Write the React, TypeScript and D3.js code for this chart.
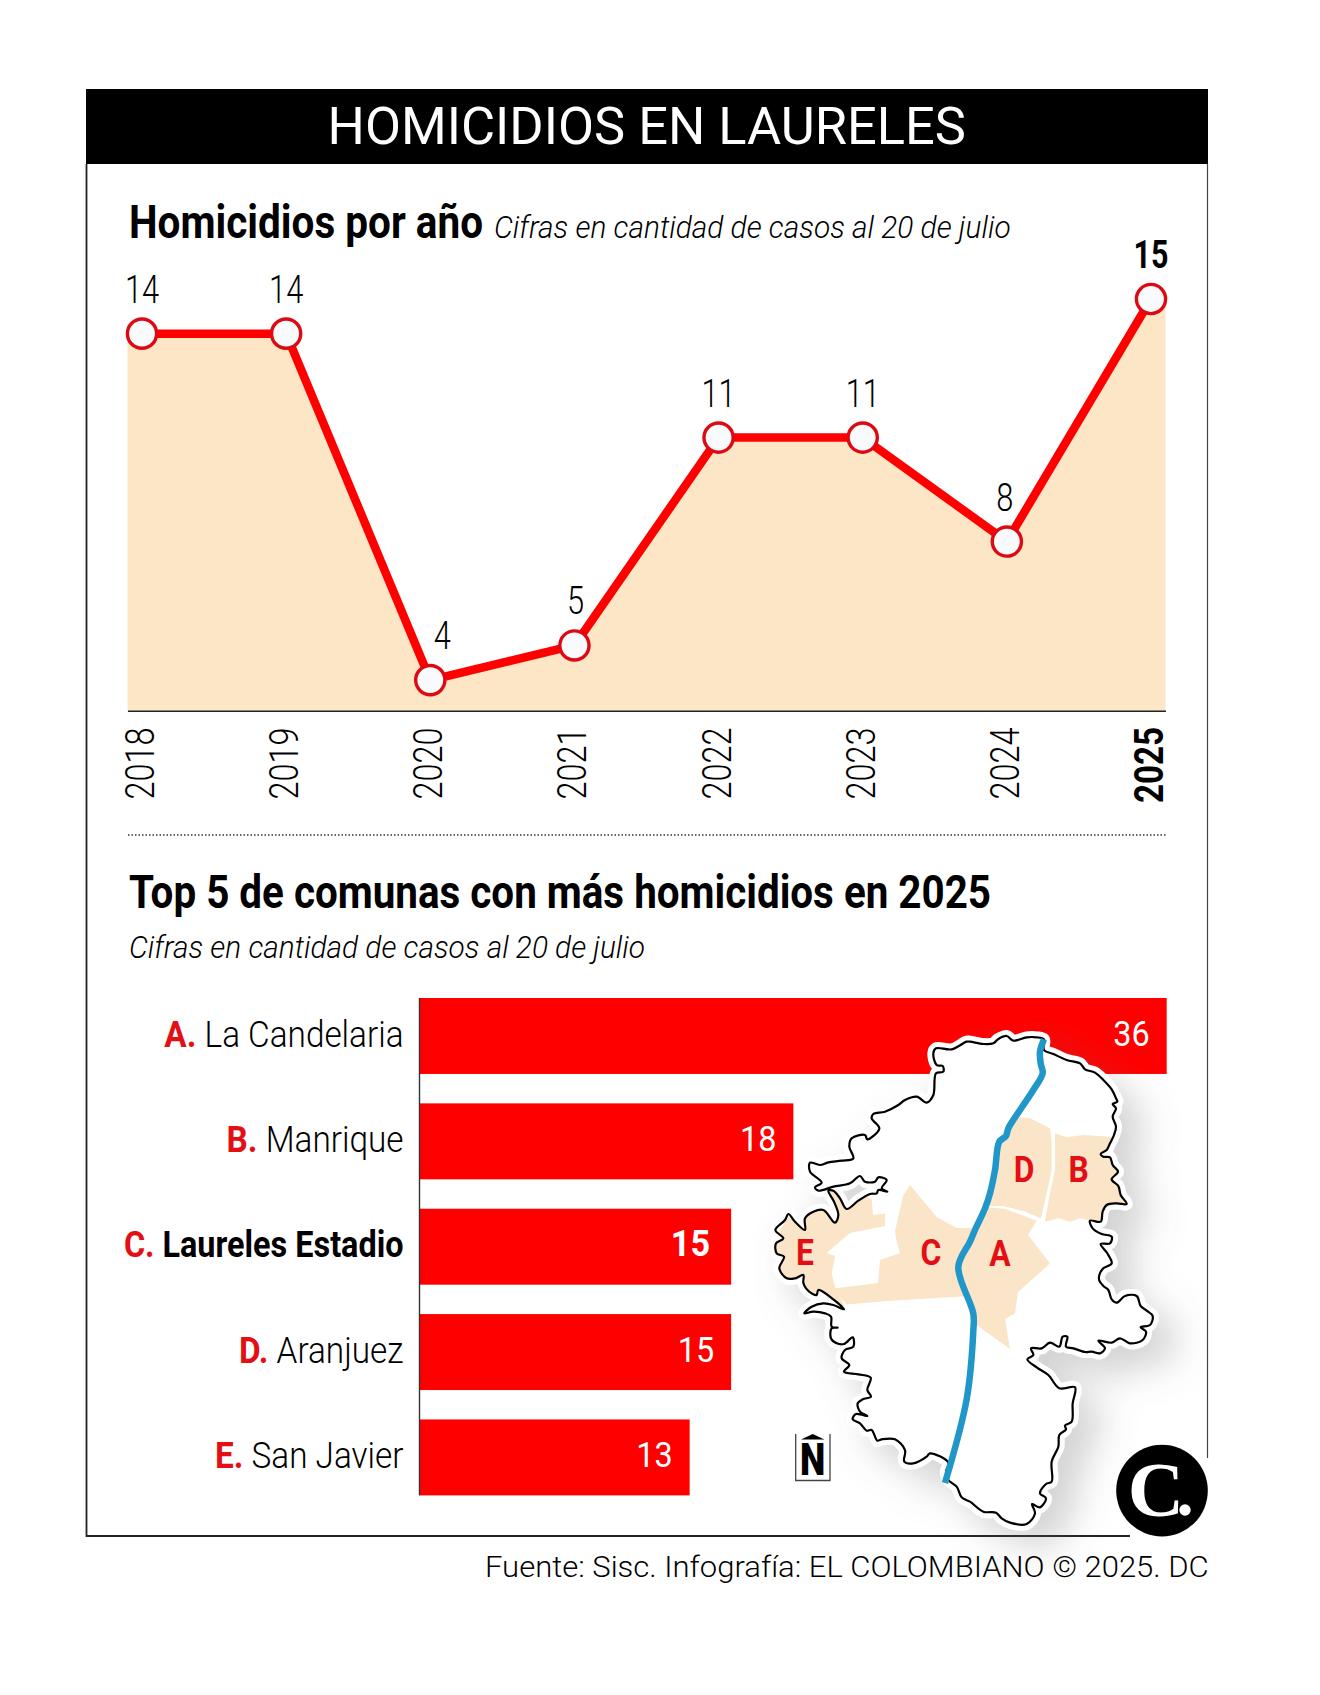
import * as d3 from "d3";

const years = ["2018", "2019", "2020", "2021", "2022", "2023", "2024", "2025"];
const yearCases = [14, 14, 4, 5, 11, 11, 8, 15];
const labelNudge = [0, 0, 12, 1, 0, 0, -2, 0];

const comunas = ["La Candelaria", "Manrique", "Laureles Estadio", "Aranjuez", "San Javier"];
const letters = ["A", "B", "C", "D", "E"];
const comunaCases = [36, 18, 15, 15, 13];

const RED = "#ff0000";
const LETTER_RED = "#e30f14";
const CREAM = "#fde6c6";
const FONT = "Roboto, sans-serif";

const x = d3.scalePoint(years, [142, 1151]);
const y = d3.scaleLinear([3.1, 15], [711.3, 299]);
const barX = d3.scaleLinear([0, 36], [420, 1166.7]);
const barY = d3.scaleBand(comunas, [998, 1495.4]).paddingInner(0.279);

const areaPad = 14.5;
const areaXs = [x(years[0])! - areaPad, ...years.map((d) => x(d)!), x(years[7])! + areaPad];
const areaYs = [yearCases[0], ...yearCases, yearCases[7]];
const areaPath = d3.area<number>()
  .x((_, i) => areaXs[i])
  .y0(y(3.1))
  .y1((d) => y(d))(areaYs);
const linePath = d3.line<number>()
  .x((_, i) => x(years[i])!)
  .y((d) => y(d))(yearCases);

// map, each piece relative to a 3x crop
type P = [number, number];
const at = (ox: number, oy: number, pts: P[]): P[] => pts.map(([a, b]) => [ox + a / 3, oy + b / 3]);

const coastEastTop: P[] = [[222, 28], [222, 60], [250, 72], [290, 90], [330, 100], [345, 118], [375, 128], [400, 150], [425, 178], [438, 205], [442, 215], [428, 222], [438, 235], [428, 260], [438, 290], [432, 315], [420, 340], [410, 360], [392, 372], [400, 380], [420, 382], [428, 405], [444, 425], [425, 448], [445, 468], [452, 495], [470, 522], [440, 520], [410, 525], [398, 545], [392, 575], [360, 572], [368, 595], [395, 612], [425, 620], [420, 640], [392, 642], [412, 670], [425, 700], [400, 715], [388, 735]];
const coastEastLow: P[] = [[388, 2], [400, 18], [415, 30], [425, 58], [440, 68], [465, 48], [500, 48], [512, 78], [530, 92], [548, 108], [540, 135], [512, 142], [528, 155], [518, 180], [480, 190], [450, 175], [425, 188], [385, 182], [405, 205], [390, 220], [365, 215], [345, 216], [310, 205], [288, 200], [292, 170], [278, 170], [268, 200], [240, 188], [215, 205], [183, 205], [190, 225], [172, 238], [200, 262], [235, 285], [268, 325], [315, 322], [308, 370], [305, 425], [285, 437], [288, 448], [268, 465], [265, 500], [245, 545], [245, 605], [228, 612], [210, 640], [228, 655], [210, 682], [186, 672], [195, 700], [170, 732], [120, 728], [95, 715], [78, 698], [40, 695], [0, 665]];
const coastWestLow: P[] = [[575, 652], [560, 620], [535, 600], [528, 575], [535, 548], [480, 520], [470, 530], [430, 550], [403, 545], [405, 510], [375, 478], [335, 478], [322, 482], [305, 450], [290, 452], [270, 430], [248, 418], [258, 402], [292, 408], [270, 395], [263, 370], [278, 358], [303, 350], [292, 330], [302, 293], [265, 283], [222, 275], [238, 255], [215, 235], [225, 210], [250, 200], [248, 172], [222, 192], [200, 190], [183, 175], [185, 145], [203, 143], [185, 140], [183, 110], [165, 100], [130, 95], [103, 100], [125, 80], [160, 70], [190, 75], [222, 88], [190, 58], [145, 30], [140, 45], [128, 42], [108, 25], [100, 8]];
const coastWestTop: P[] = [[100, 735], [75, 745], [50, 745], [28, 715], [42, 680], [20, 670], [18, 640], [40, 625], [16, 600], [45, 570], [55, 552], [75, 575], [105, 600], [105, 565], [130, 545], [160, 540], [195, 578], [205, 555], [192, 515], [175, 482], [190, 482], [210, 505], [230, 537], [265, 512], [300, 492], [320, 490], [325, 480], [352, 485], [335, 475], [350, 450], [325, 442], [315, 455], [285, 455], [270, 438], [240, 460], [190, 470], [145, 482], [135, 472], [155, 458], [120, 425], [120, 398], [150, 405], [175, 397], [215, 392], [250, 385], [238, 350], [245, 325], [285, 315], [292, 328], [328, 295], [305, 265], [310, 252], [345, 245], [385, 225], [405, 210], [440, 200], [470, 218], [490, 195], [498, 130], [520, 125], [518, 108], [500, 105], [490, 70], [498, 55], [545, 58], [590, 35]];
const coastNorth: P[] = [[0, 35], [40, 42], [70, 40], [85, 27], [110, 18], [130, 32], [170, 22], [200, 22]];

const outline: P[] = [
  ...at(970, 1030, coastEastTop),
  ...at(970, 1280, coastEastLow),
  ...at(770, 1280, coastWestLow),
  ...at(770, 1030, coastWestTop),
  ...at(970, 1030, coastNorth),
];

const river: P[] = [
  ...at(970, 1030, [[222, 28], [210, 65], [212, 100], [218, 130], [190, 180], [150, 240], [115, 295], [108, 318], [88, 335], [75, 420], [60, 490], [45, 535], [15, 600], [0, 635]]),
  [958.3, 1267], [973.3, 1313.6], [973.3, 1331], [966.7, 1399], [945, 1483],
];

const regionD: P[] = at(970, 1030, [[150, 262], [180, 265], [210, 280], [240, 295], [245, 330], [245, 420], [230, 490], [213, 565], [160, 543], [100, 528], [50, 528], [75, 440], [85, 335], [110, 300]]);
const regionB: P[] = at(970, 1030, [[255, 310], [290, 322], [340, 315], [420, 320], [560, 340], [560, 600], [392, 575], [360, 572], [330, 565], [300, 575], [265, 565], [225, 575], [240, 490], [255, 420]]);
const regionA: P[] = [[986.7, 1207], [1005, 1209], [1036.7, 1220.7], [1028, 1235], [1050, 1263.6], [1018, 1292], [1015, 1313.6], [1005, 1319], [1010, 1349], [975, 1324], [970, 1306], [956.7, 1267]];
const regionC: P[] = [[910, 1185], [936.7, 1217], [956.7, 1228], [973, 1228], [956.7, 1267], [970, 1296], [886.7, 1301], [846.7, 1304.6], [833, 1288.6], [863, 1285], [878, 1283], [880, 1260], [900, 1253], [896.7, 1242], [895, 1231], [903, 1196]];
const regionE: P[] = [[871.7, 1199], [873, 1215], [885, 1213.6], [885, 1226], [850, 1233], [826.7, 1253], [835, 1256], [831.7, 1274], [835, 1287], [845, 1306], [800, 1300], [760, 1260], [800, 1200], [830, 1190], [850, 1190]];

const mapLabels: [string, number, number][] = [
  ["D", 1024, 1181.7],
  ["B", 1078.7, 1181.7],
  ["A", 1000, 1266],
  ["C", 931, 1265],
  ["E", 805, 1265],
];

const coastPath = d3.line().curve(d3.curveCatmullRomClosed.alpha(0.5))(outline) as string;
const riverPath = d3.line().curve(d3.curveCatmullRom.alpha(0.5))(river) as string;
const regionPath = d3.line().curve(d3.curveLinearClosed);

const App = () => {
  return (
    <svg
      width={1320}
      height={1695}
      viewBox="0 0 1320 1695"
      style={{ position: "absolute", left: 0, top: 0, background: "#fff" }}
      fontFamily={FONT}
    >
      <defs>
        <clipPath id="coast">
          <path d={coastPath} />
        </clipPath>
        <filter id="soft" x="-30%" y="-30%" width="170%" height="170%">
          <feDropShadow dx="20" dy="18" stdDeviation="18" floodColor="#707070" floodOpacity="0.3" />
        </filter>
      </defs>

      {/* frame */}
      <rect x={86} y={89} width={1122} height={75} fill="#000" />
      <path d="M86.5,164V1536H1130" fill="none" stroke="#222" strokeWidth={1.8} />
      <path d="M1207.5,164V1458" fill="none" stroke="#444" strokeWidth={1.2} />
      <text x={327.5} y={144} fontSize={51} fill="#fff" textLength={638.5} lengthAdjust="spacingAndGlyphs">
        HOMICIDIOS EN LAURELES
      </text>

      {/* line chart */}
      <text x={129} y={237.7} fontSize={46} fontWeight={700} textLength={354} lengthAdjust="spacingAndGlyphs">
        Homicidios por año
      </text>
      <text x={494} y={237.7} fontSize={32} fontWeight={300} fontStyle="italic" textLength={516.6} lengthAdjust="spacingAndGlyphs">
        Cifras en cantidad de casos al 20 de julio
      </text>

      <path d={areaPath as string} fill={CREAM} />
      <line x1={128} x2={1166} y1={711.3} y2={711.3} stroke="#222" strokeWidth={1.6} />
      <path d={linePath as string} fill="none" stroke={RED} strokeWidth={8.5} strokeLinejoin="round" />
      {years.map((year, i) => (
        <circle key={year} cx={x(year)} cy={y(yearCases[i])} r={14.6} fill="#f9fafb" stroke="#dd0a14" strokeWidth={3.4} />
      ))}
      {years.map((year, i) => {
        const last = i === years.length - 1;
        return (
          <text
            key={year}
            transform={`translate(${x(year)! + labelNudge[i]},${y(yearCases[i]) - 31}) scale(${last ? 0.78 : 0.79},1)`}
            textAnchor="middle"
            fontSize={39}
            fontWeight={last ? 700 : 300}
          >
            {yearCases[i]}
          </text>
        );
      })}
      {years.map((year, i) => {
        const last = i === years.length - 1;
        return (
          <text
            key={year}
            transform={`translate(${x(year)! + 12},${last ? 803 : 799.5}) rotate(-90)`}
            fontSize={40}
            fontWeight={last ? 700 : 300}
            textLength={last ? 76 : 72}
            lengthAdjust="spacingAndGlyphs"
          >
            {year}
          </text>
        );
      })}

      <line x1={128} x2={1166} y1={835} y2={835} stroke="#333" strokeWidth={1.5} strokeDasharray="1.5 2" />

      {/* bars */}
      <text x={129} y={908} fontSize={46} fontWeight={700} textLength={862} lengthAdjust="spacingAndGlyphs">
        Top 5 de comunas con más homicidios en 2025
      </text>
      <text x={129} y={957.7} fontSize={32} fontWeight={300} fontStyle="italic" textLength={516} lengthAdjust="spacingAndGlyphs">
        Cifras en cantidad de casos al 20 de julio
      </text>

      {comunas.map((name, i) => (
        <rect
          key={name}
          x={barX(0)}
          y={barY(name)}
          width={barX(comunaCases[i]) - barX(0)}
          height={barY.bandwidth()}
          fill={RED}
        />
      ))}
      <line x1={419.5} x2={419.5} y1={998} y2={1495.4} stroke="#333" strokeWidth={1.4} />
      {comunas.map((name, i) => {
        const main = i === 2;
        return (
          <text
            key={name}
            transform={`translate(403.5,${barY(name)! + 48.5}) scale(${main ? 0.885 : 0.91},1)`}
            textAnchor="end"
            fontSize={36.6}
            fontWeight={main ? 700 : 300}
          >
            <tspan fill={LETTER_RED} fontWeight={700}>{letters[i]}. </tspan>
            {name}
          </text>
        );
      })}

      {/* map */}
      <path d={coastPath} fill="#fff" stroke="#fff" strokeWidth={12} strokeLinejoin="round" filter="url(#soft)" />
      <g clipPath="url(#coast)" fill="#fbe5c8">
        {[regionA, regionB, regionC, regionD, regionE].map((r, i) => (
          <path key={i} d={regionPath(r) as string} />
        ))}
      </g>
      <path d={coastPath} fill="none" stroke="#000" strokeWidth={2.2} strokeLinejoin="round" />
      <path d={riverPath} fill="none" stroke="#2196c9" strokeWidth={6.5} strokeLinecap="butt" />
      {mapLabels.map(([t, lx, ly]) => (
        <text key={t} transform={`translate(${lx},${ly}) scale(0.86,1)`} textAnchor="middle" fontSize={37} fontWeight={700} fill={LETTER_RED}>
          {t}
        </text>
      ))}

      {/* bar values on top of the map halo */}
      {comunas.map((name, i) => {
        const main = i === 2;
        return (
          <text
            key={name}
            transform={`translate(${barX(comunaCases[i]) - (main ? 21 : 17)},${barY(name)! + 47.7}) scale(${main ? 0.95 : 0.9},1)`}
            textAnchor="end"
            fontSize={36}
            fontWeight={main ? 700 : 400}
            fill="#fff"
          >
            {comunaCases[i]}
          </text>
        );
      })}

      {/* north mark */}
      <path d="M795.7,1434V1480.5H830V1434" fill="none" stroke="#444" strokeWidth={1.3} />
      <path d="M801,1439.5H824.5L812.7,1434Z" fill="#000" />
      <text transform="translate(812.7,1475) scale(0.8,1)" textAnchor="middle" fontSize={45} fontWeight={900}>
        N
      </text>

      {/* logo */}
      <circle cx={1162} cy={1490.6} r={45.8} fill="#000" />
      <text x={1156} y={1516} textAnchor="middle" fontFamily="'Liberation Serif', serif" fontWeight={700} fontSize={78} fill="#fff">
        C
      </text>
      <circle cx={1185} cy={1510} r={5.7} fill="#fff" />

      <text x={485} y={1576.7} fontSize={29} fontWeight={300} textLength={723.7} lengthAdjust="spacingAndGlyphs">
        Fuente: Sisc. Infografía: EL COLOMBIANO © 2025. DC
      </text>
    </svg>
  );
};

export default App;
